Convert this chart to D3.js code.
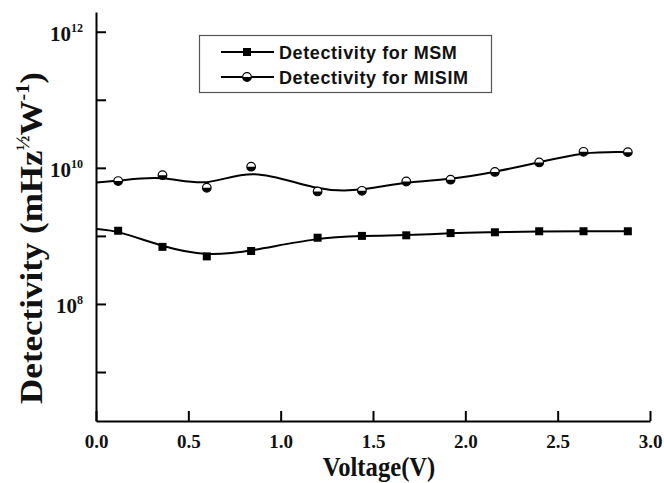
<!DOCTYPE html>
<html>
<head>
<meta charset="utf-8">
<script src="https://cdn.jsdelivr.net/npm/d3@7"></script>
<style>
  body { margin: 0; background: #fff; }
  svg { display: block; }
</style>
</head>
<body>
<div id="chart"></div>
<script>
// bias voltage (V) of each measured point
const voltage = [0.12, 0.36, 0.6, 0.84, 1.2, 1.44, 1.68, 1.92, 2.16, 2.4, 2.64, 2.88]
// detectivity
const detMSM = [1.19e9, 6.9e8, 5.0e8, 6.0e8, 9.4e8, 1.0e9, 1.02e9, 1.1e9, 1.13e9, 1.17e9, 1.17e9, 1.17e9]
const detMISIM = [6.4e9, 7.8e9, 5.1e9, 1.04e10, 4.5e9, 4.6e9, 6.3e9, 6.7e9, 8.7e9, 1.2e10, 1.72e10, 1.7e10]
// where each smoothed curve meets the y axis (V = 0), no symbol there
const curveStart = { msm: 1.26e9, misim: 6.1e9 }
const xTicks = [0, 0.5, 1, 1.5, 2, 2.5, 3]
const yTicks = [1e7, 1e8, 1e9, 1e10, 1e11, 1e12]
const yLabelled = [1e8, 1e10, 1e12]
const seriesNames = ['Detectivity for MSM', 'Detectivity for MISIM']

const width = 664
const height = 483
const serif = '"Liberation Serif", "Times New Roman", serif'
const sans = '"Liberation Sans", Arial, sans-serif'

const x = d3.scaleLinear().domain([0, 3]).range([96, 650])
const y = d3.scaleLog().domain([Math.pow(10, 6.28), Math.pow(10, 12.29)]).range([421, 12])

const svg = d3.select('#chart').append('svg').attr('width', width).attr('height', height)

// axes
const xAxis = d3.axisBottom(x).tickValues(xTicks).tickSize(-10).tickSizeOuter(0).tickPadding(14).tickFormat(d3.format('.1f'))
const gx = svg.append('g').attr('transform', `translate(0,${y.range()[0]})`).call(xAxis)
gx.select('.domain').attr('stroke-width', 2)
gx.selectAll('.tick line').attr('stroke-width', 2)
gx.selectAll('.tick text')
  .attr('font-family', serif)
  .attr('font-weight', 'bold')
  .attr('font-size', 19)
  .attr('fill', '#111')

const yAxis = d3.axisLeft(y).tickValues(yTicks).tickSize(-10).tickSizeOuter(0).tickPadding(13).tickFormat('')
const gy = svg.append('g').attr('transform', `translate(${x.range()[0]},0)`).call(yAxis)
gy.select('.domain').attr('stroke-width', 2)
gy.selectAll('.tick line').attr('stroke-width', 2)
gy.selectAll('.tick text').each(function (d) {
  if (!yLabelled.includes(d)) return
  const t = d3.select(this)
    .attr('font-family', serif)
    .attr('font-weight', 'bold')
    .attr('font-size', 21)
    .attr('fill', '#111')
    .attr('dy', '0.4em')
  t.append('tspan').text('10')
  t.append('tspan')
    .attr('font-size', 12)
    .attr('dy', '-0.7em')
    .text(Math.round(Math.log10(d)))
})

// smoothed curves + symbols
const curve = d3.line()
  .curve(d3.curveBasis)
  .x((d) => x(d[0]))
  .y((d) => y(d[1]))

const msmPts = voltage.map((v, i) => [v, detMSM[i]])
const misimPts = voltage.map((v, i) => [v, detMISIM[i]])

svg.append('path')
  .datum([[0, curveStart.msm], ...msmPts])
  .attr('fill', 'none').attr('stroke', '#000').attr('stroke-width', 2)
  .attr('d', curve)
svg.append('path')
  .datum([[0, curveStart.misim], ...misimPts])
  .attr('fill', 'none').attr('stroke', '#000').attr('stroke-width', 2)
  .attr('d', curve)

function square(g, cx, cy) {
  g.append('rect')
    .attr('x', cx - 4).attr('y', cy - 4)
    .attr('width', 8).attr('height', 8)
    .attr('fill', '#000')
}

const halfArc = d3.arc().innerRadius(0).outerRadius(4.3)
function halfCircle(g, cx, cy) {
  const c = g.append('g').attr('transform', `translate(${cx},${cy})`)
  c.append('circle').attr('r', 4.3).attr('fill', '#fff')
  c.append('path').attr('d', halfArc({ startAngle: Math.PI / 2, endAngle: Math.PI * 1.5 })).attr('fill', '#000')
  c.append('circle').attr('r', 4.3).attr('fill', 'none').attr('stroke', '#000').attr('stroke-width', 1.2)
}

const marks = svg.append('g')
msmPts.forEach((d) => square(marks, x(d[0]), y(d[1])))
misimPts.forEach((d) => halfCircle(marks, x(d[0]), y(d[1])))

// legend
const legend = svg.append('g')
legend.append('rect')
  .attr('x', 199.5).attr('y', 35.5)
  .attr('width', 292).attr('height', 57)
  .attr('fill', '#fff').attr('stroke', '#555').attr('stroke-width', 1.2)
seriesNames.forEach((name, i) => {
  const ly = 52 + i * 25
  legend.append('line')
    .attr('x1', 221).attr('x2', 274).attr('y1', ly).attr('y2', ly)
    .attr('stroke', '#000').attr('stroke-width', 2)
  if (i === 0) square(legend, 247, ly)
  else halfCircle(legend, 247, ly)
  legend.append('text')
    .attr('x', 279).attr('y', ly + 6.5)
    .attr('font-family', sans)
    .attr('font-weight', 'bold')
    .attr('font-size', 18)
    .attr('letter-spacing', 0.6)
    .attr('fill', '#111')
    .text(name)
})

// axis titles
svg.append('text')
  .attr('transform', 'translate(379,476) scale(0.88,1)')
  .attr('text-anchor', 'middle')
  .attr('font-family', serif)
  .attr('font-weight', 'bold')
  .attr('font-size', 28)
  .attr('fill', '#111')
  .text('Voltage(V)')

const yTitle = svg.append('text')
  .attr('transform', 'translate(42,238) rotate(-90) scale(1,0.9)')
  .attr('text-anchor', 'middle')
  .attr('font-family', serif)
  .attr('font-weight', 'bold')
  .attr('font-size', 35)
  .attr('fill', '#111')
yTitle.append('tspan').text('Detectivity (mHz')
yTitle.append('tspan').attr('font-size', 20).attr('dy', -14).text('½')
yTitle.append('tspan').attr('dy', 14).text('W')
yTitle.append('tspan').attr('font-size', 20).attr('dy', -14).text('-1')
yTitle.append('tspan').attr('dy', 14).text(')')
</script>
</body>
</html>
